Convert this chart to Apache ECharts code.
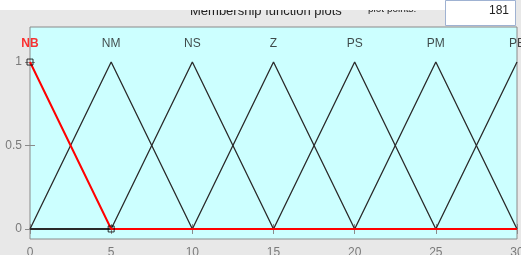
<!DOCTYPE html>
<html>
<head>
<meta charset="utf-8">
<script src="https://cdn.jsdelivr.net/npm/echarts@6/dist/echarts.min.js"></script>
<style>
  html, body { margin: 0; padding: 0; background: #e8e8e8; }
  #chart { width: 521px; height: 255px; }
</style>
</head>
<body>
<div id="chart"></div>
<script>
// membership functions: [a, b, c] triangle points, range 0..30
const mfNames = ['NB', 'NM', 'NS', 'Z', 'PS', 'PM', 'PB']
const mfPoints = [
  [[0, 1], [5, 0], [30, 0]],
  [[0, 0], [5, 1], [10, 0], [30, 0]],
  [[0, 0], [5, 0], [10, 1], [15, 0], [30, 0]],
  [[0, 0], [10, 0], [15, 1], [20, 0], [30, 0]],
  [[0, 0], [15, 0], [20, 1], [25, 0], [30, 0]],
  [[0, 0], [20, 0], [25, 1], [30, 0]],
  [[0, 0], [25, 0], [30, 1]]
]
const mfPeaks = [0, 5, 10, 15, 20, 25, 30]
const selectedIndex = 0
const selectedVertices = [[0, 1], [5, 0]]
const xTicks = [0, 5, 10, 15, 20, 25, 30]
const yTicks = [0, 0.5, 1]

const chart = echarts.init(document.getElementById('chart'))

const lineSeries = mfNames.map((name, i) => ({
  type: 'line',
  name: name,
  data: mfPoints[i],
  symbol: 'none',
  lineStyle: {
    color: i === selectedIndex ? '#ff0000' : '#2a2a2a',
    width: i === selectedIndex ? 2 : 1.3
  },
  z: i === selectedIndex ? 5 : 3,
  animation: false
}))

const labelSeries = {
  type: 'scatter',
  data: mfNames.map((name, i) => ({
    value: [mfPeaks[i], 1.11],
    name: name,
    label: {
      show: true,
      formatter: name,
      position: 'inside',
      color: i === selectedIndex ? '#ff0000' : '#1a1a1a',
      fontWeight: i === selectedIndex ? 'bold' : 'normal',
      fontFamily: 'Liberation Sans',
      fontSize: 12
    }
  })),
  symbolSize: 0,
  z: 6,
  animation: false
}

const vertexSeries = {
  type: 'scatter',
  data: selectedVertices,
  symbol: 'rect',
  symbolSize: 6,
  itemStyle: { color: 'rgba(0,0,0,0)', borderColor: '#000', borderWidth: 1 },
  z: 7,
  animation: false
}

const tickStyle = { show: true, inside: true, length: 5, lineStyle: { color: '#8a8a8a' } }

chart.setOption({
  backgroundColor: '#e8e8e8',
  grid: {
    left: 30, top: 27, width: 487, height: 212,
    outerBoundsMode: 'none', containLabel: false,
    show: true, backgroundColor: '#ccffff', borderColor: '#8a8a8a', borderWidth: 1
  },
  xAxis: [{
    type: 'value', min: 0, max: 30, interval: 5,
    axisLine: { show: false },
    axisTick: tickStyle,
    splitLine: { show: false },
    axisLabel: { color: '#7a7a7a', fontSize: 12, fontFamily: 'Liberation Sans', margin: 8 }
  }, {
    type: 'value', position: 'top', min: 0, max: 30, interval: 5,
    axisLine: { show: false },
    axisTick: tickStyle,
    splitLine: { show: false },
    axisLabel: { show: false }
  }],
  yAxis: [{
    type: 'value', min: -0.06, max: 1.21,
    axisLine: { show: false },
    axisTick: Object.assign({}, tickStyle, { customValues: yTicks }),
    splitLine: { show: false },
    axisLabel: {
      customValues: yTicks, color: '#7a7a7a', fontSize: 12,
      fontFamily: 'Liberation Sans', margin: 8
    }
  }, {
    type: 'value', position: 'right', min: -0.06, max: 1.21,
    axisLine: { show: false },
    axisTick: Object.assign({}, tickStyle, { customValues: yTicks }),
    splitLine: { show: false },
    axisLabel: { show: false }
  }],
  graphic: [
    {
      type: 'text', left: 190, top: 5, z: 1,
      style: { text: 'Membership function plots', fontSize: 13, fontFamily: 'Liberation Sans', fill: '#222' }
    },
    {
      type: 'text', left: 368, top: 4, z: 1,
      style: { text: 'plot points:', fontSize: 10, fontFamily: 'Liberation Sans', fill: '#222' }
    },
    {
      type: 'rect', left: 0, top: 0, z: 2,
      shape: { width: 445, height: 10 },
      style: { fill: '#ffffff' }
    },
    {
      type: 'rect', left: 445, top: 0, z: 2,
      shape: { width: 70, height: 25 },
      style: { fill: '#ffffff', stroke: '#9fb2d2', lineWidth: 1 }
    },
    {
      type: 'text', right: 12, top: 5, z: 3,
      style: { text: '181', fontSize: 12, fontFamily: 'Liberation Sans', fill: '#222' }
    }
  ],
  series: lineSeries.concat([labelSeries, vertexSeries])
})
</script>
</body>
</html>
